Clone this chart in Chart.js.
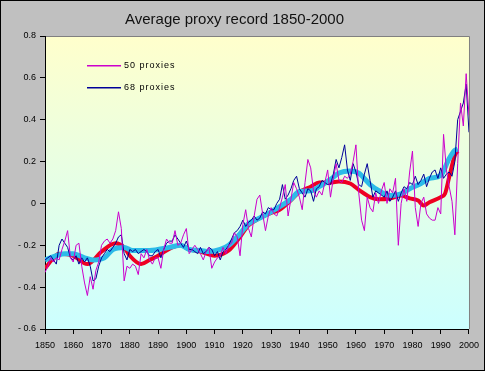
<!DOCTYPE html>
<html>
<head>
<meta charset="utf-8">
<script src="https://cdn.jsdelivr.net/npm/chart.js@4/dist/chart.umd.min.js"></script>
<style>
  html, body { margin: 0; padding: 0; background: #c0c0c0; }
  canvas { display: block; }
</style>
</head>
<body>
<canvas id="proxyChart" width="485" height="371"></canvas>
<script>
// annual values, 1850 .. 2000
var firstYear = 1850;

var proxies50 = [
  -0.33, -0.30, -0.26, -0.28, -0.26, -0.27, -0.22, -0.18, -0.13, -0.26,
  -0.28, -0.20, -0.19, -0.30, -0.38, -0.44, -0.35, -0.41, -0.32, -0.28,
  -0.20, -0.18, -0.17, -0.19, -0.17, -0.13, -0.04, -0.12, -0.37, -0.30,
  -0.31, -0.29, -0.30, -0.34, -0.24, -0.26, -0.22, -0.27, -0.29, -0.26,
  -0.26, -0.31, -0.22, -0.17, -0.19, -0.19, -0.13, -0.20, -0.19, -0.15,
  -0.12, -0.24, -0.22, -0.20, -0.22, -0.24, -0.27, -0.23, -0.21, -0.31,
  -0.28, -0.26, -0.25, -0.21, -0.24, -0.20, -0.19, -0.14, -0.16, -0.25,
  -0.10, -0.03, -0.12, -0.16, -0.06, 0.02, 0.04, -0.05, -0.13, -0.06,
  -0.02, -0.05, -0.06, -0.02, 0.03, 0.09, -0.06, 0.02, 0.10, 0.07,
  0.03, -0.03, 0.10, 0.21, 0.17, 0.06, 0.03, 0.06, 0.04, 0.10,
  0.16, 0.03, 0.12, 0.19, 0.11, 0.10, 0.13, 0.12, 0.14, 0.20,
  0.28, 0.05, -0.08, -0.13, 0.03, -0.02, -0.04, 0.05, 0.00, 0.06,
  0.10, 0.00, 0.07, 0.05, 0.12, -0.20, 0.00, 0.07, 0.01, 0.15,
  0.25, -0.02, -0.11, 0.00, 0.03, -0.05, -0.07, -0.08, -0.08, -0.02,
  -0.05, 0.33, 0.16, 0.08, 0.01, -0.15, 0.19, 0.48, 0.37, 0.62,
  0.42
];

var proxies68 = [
  -0.27, -0.26, -0.25, -0.27, -0.29, -0.20, -0.17, -0.19, -0.21, -0.26,
  -0.27, -0.25, -0.29, -0.26, -0.28, -0.26, -0.30, -0.37, -0.36, -0.30,
  -0.26, -0.24, -0.22, -0.23, -0.21, -0.19, -0.16, -0.15, -0.24, -0.27,
  -0.22, -0.23, -0.22, -0.24, -0.23, -0.22, -0.23, -0.25, -0.25, -0.23,
  -0.22, -0.26, -0.22, -0.19, -0.18, -0.18, -0.15, -0.17, -0.19, -0.21,
  -0.18, -0.22, -0.22, -0.23, -0.24, -0.21, -0.24, -0.23, -0.21, -0.22,
  -0.25, -0.23, -0.27, -0.23, -0.22, -0.20, -0.17, -0.14, -0.13, -0.11,
  -0.08, -0.11, -0.09, -0.08, -0.06, -0.08, -0.07, -0.04, -0.05, -0.02,
  -0.03, -0.03, 0.00, 0.02, 0.09, 0.02, 0.04, 0.07, 0.11, 0.13,
  0.07, 0.05, 0.03, 0.07, 0.06, 0.01, 0.07, 0.08, 0.11, 0.10,
  0.09, 0.09, 0.14, 0.21, 0.17, 0.22, 0.28, 0.16, 0.11, 0.19,
  0.15, 0.09, 0.08, 0.14, 0.19, 0.11, 0.03, 0.06, 0.05, 0.04,
  0.03, 0.06, 0.01, 0.03, 0.06, 0.01, 0.05, 0.08, 0.07, 0.10,
  0.09, 0.13, 0.09, 0.11, 0.14, 0.08, 0.12, 0.15, 0.16, 0.12,
  0.17, 0.12, 0.14, 0.15, 0.13, 0.20, 0.40, 0.44, 0.48, 0.57,
  0.34
];

// smoothed curves
var smooth50Years = [1850, 1855, 1860, 1865, 1870, 1875, 1878, 1880, 1884, 1887, 1890, 1895, 1898, 1901, 1905, 1910,
  1915, 1919, 1922, 1926, 1930, 1933, 1937, 1940, 1944, 1947, 1951, 1954, 1958, 1961, 1965, 1968,
  1972, 1976, 1979, 1982, 1984, 1986, 1990, 1991.5, 1993, 1995, 1996];
var smooth50 = [-0.31, -0.24, -0.25, -0.29, -0.23, -0.19, -0.21, -0.25, -0.29, -0.27, -0.25, -0.21, -0.20, -0.22, -0.23, -0.25,
  -0.225, -0.16, -0.105, -0.07, -0.045, -0.03, 0.015, 0.055, 0.08, 0.10, 0.10, 0.105, 0.095, 0.065, 0.03, 0.02,
  0.024, 0.038, 0.024, 0.014, -0.01, 0.006, 0.03, 0.046, 0.126, 0.23, 0.25];

var smooth68Years = [1850, 1857, 1860, 1864, 1867, 1871, 1874, 1878, 1881, 1887, 1894, 1898, 1901, 1905, 1908, 1912,
  1915, 1919, 1922, 1926, 1930, 1933, 1937, 1940, 1944, 1947, 1951, 1954, 1958, 1961, 1965, 1968,
  1972, 1976, 1979, 1983, 1986, 1990, 1993, 1995, 1996];
var smooth68 = [-0.27, -0.24, -0.24, -0.26, -0.27, -0.26, -0.22, -0.21, -0.225, -0.225, -0.21, -0.20, -0.22, -0.225, -0.23, -0.22,
  -0.20, -0.145, -0.097, -0.07, -0.04, -0.015, 0.02, 0.057, 0.06, 0.08, 0.115, 0.145, 0.155, 0.145, 0.09, 0.062,
  0.038, 0.046, 0.07, 0.095, 0.12, 0.134, 0.215, 0.254, 0.26];

var yTicks = [0.8, 0.6, 0.4, 0.2, 0, -0.2, -0.4, -0.6];

function annualPoints(values) {
  return values.map(function (v, i) { return { x: firstYear + i, y: v }; });
}
function pairPoints(xs, ys) {
  return xs.map(function (x, i) { return { x: x, y: ys[i] }; });
}

var font = "'Liberation Sans', Arial, sans-serif";
var magenta = '#cc00cc';
var navy = '#000099';

var frame = {
  id: 'frame',
  beforeDraw: function (chart) {
    var c = chart.ctx, a = chart.chartArea;
    c.save();
    c.fillStyle = '#c0c0c0';
    c.fillRect(0, 0, chart.width, chart.height);
    c.strokeStyle = '#000';
    c.lineWidth = 1;
    c.strokeRect(0.5, 0.5, chart.width - 1, chart.height - 1);
    var g = c.createLinearGradient(0, a.top, 0, a.bottom);
    g.addColorStop(0, '#ffffcc');
    g.addColorStop(1, '#ccffff');
    c.fillStyle = g;
    c.fillRect(a.left, a.top, a.right - a.left, a.bottom - a.top);
    c.strokeStyle = '#808080';
    c.beginPath();
    c.moveTo(a.left, a.top + 0.5);
    c.lineTo(a.right + 0.5, a.top + 0.5);
    c.lineTo(a.right + 0.5, a.bottom);
    c.stroke();
    c.restore();
  },
  afterDraw: function (chart) {
    // legend drawn inside the plot, only for the two raw series
    var c = chart.ctx;
    var items = [
      { text: '50 proxies', color: magenta, y: 65 },
      { text: '68 proxies', color: navy, y: 87 }
    ];
    c.save();
    c.font = '9px ' + font;
    c.letterSpacing = '1px';
    c.textBaseline = 'middle';
    c.fillStyle = '#000';
    items.forEach(function (it) {
      c.fillStyle = it.color;
      c.fillRect(87, it.y, 34, 1.5);
      c.fillStyle = '#000';
      c.fillText(it.text, 124, it.y + 1);
    });
    c.restore();
  }
};

new Chart(document.getElementById('proxyChart'), {
  type: 'line',
  data: {
    datasets: [
      {
        label: '50 proxies',
        data: annualPoints(proxies50),
        borderColor: magenta,
        borderWidth: 1,
        pointRadius: 0,
        tension: 0
      },
      {
        label: '68 proxies',
        data: annualPoints(proxies68),
        borderColor: navy,
        borderWidth: 1,
        pointRadius: 0,
        tension: 0
      },
      {
        label: '68 smoothed',
        data: pairPoints(smooth68Years, smooth68),
        borderColor: '#2cbbe8',
        borderWidth: 5,
        pointRadius: 0,
        cubicInterpolationMode: 'monotone'
      },
      {
        label: '50 smoothed',
        data: pairPoints(smooth50Years, smooth50),
        borderColor: '#ee0022',
        borderWidth: 4,
        pointRadius: 0,
        cubicInterpolationMode: 'monotone'
      }
    ]
  },
  options: {
    responsive: false,
    animation: false,
    devicePixelRatio: 1,
    layout: { padding: { left: 0, right: 16, top: 0, bottom: 0 } },
    plugins: {
      legend: { display: false },
      tooltip: { enabled: false },
      title: {
        display: true,
        text: 'Average proxy record 1850-2000',
        color: '#111',
        font: { family: font, size: 15, weight: 'normal' },
        padding: { top: 11, bottom: 7 }
      }
    },
    scales: {
      x: {
        type: 'linear',
        min: 1850,
        max: 2000,
        afterFit: function (s) { s.height = 42; },
        border: { color: '#000', width: 1 },
        grid: { drawOnChartArea: false, tickLength: 5, color: '#000' },
        ticks: {
          stepSize: 10,
          maxRotation: 0,
          autoSkip: false,
          color: '#000',
          padding: 6,
          font: { family: font, size: 9 },
          callback: function (v) { return String(v); }
        }
      },
      y: {
        min: -0.6,
        max: 0.8,
        afterFit: function (s) { s.width = 45; },
        afterBuildTicks: function (s) { s.ticks = yTicks.map(function (v) { return { value: v }; }); },
        border: { color: '#000', width: 1 },
        grid: { drawOnChartArea: false, tickLength: 5, color: '#000' },
        ticks: {
          color: '#000',
          padding: 4,
          font: { family: font, size: 9 },
          callback: function (v) {
            var r = Math.round(v * 10) / 10;
            if (r === 0) return '0';
            return r < 0 ? '- ' + Math.abs(r) : String(r);
          }
        }
      }
    }
  },
  plugins: [frame]
});
</script>
</body>
</html>
